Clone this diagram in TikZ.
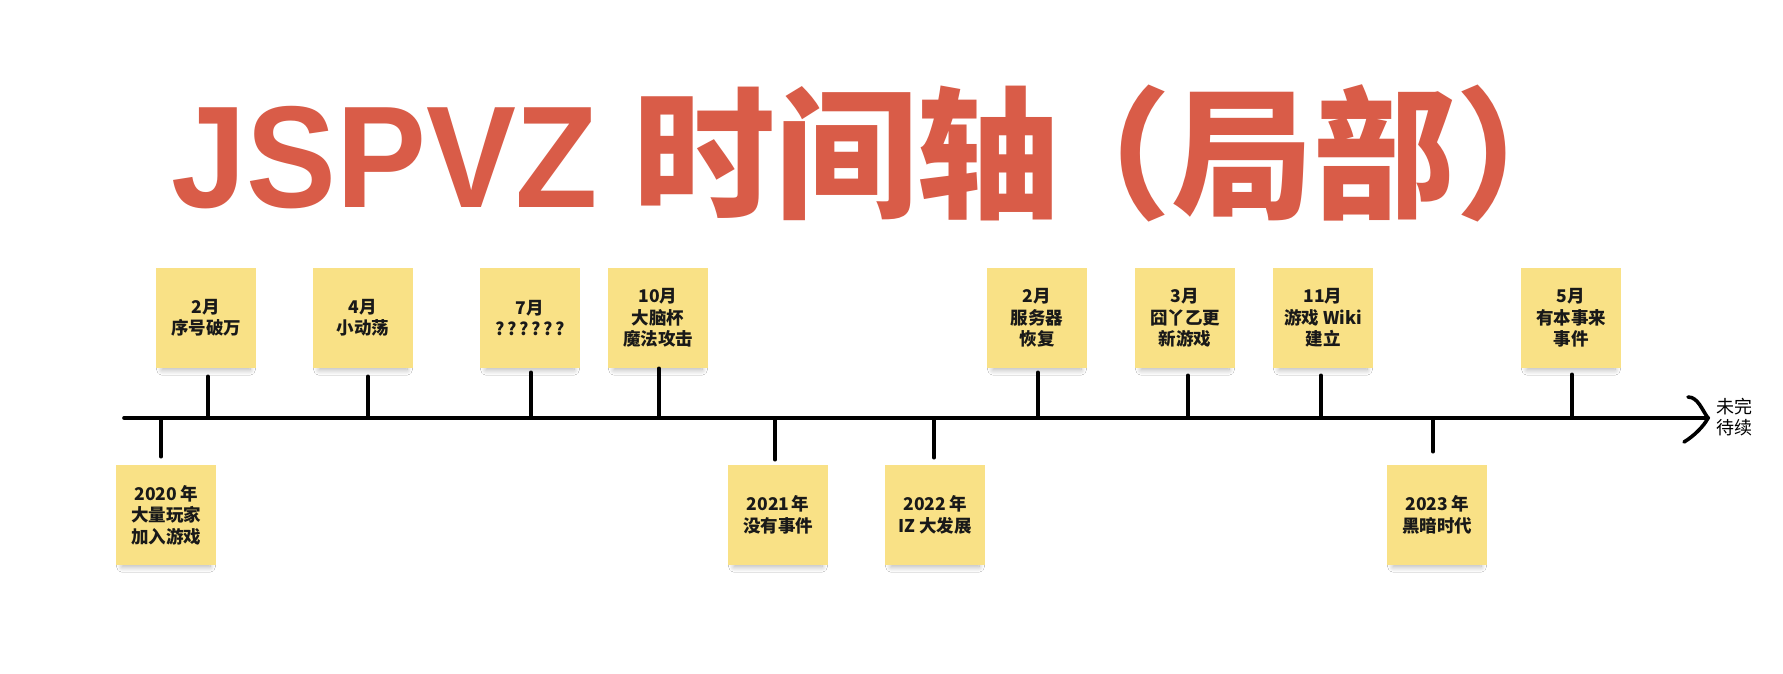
\documentclass[tikz,border=0pt]{standalone}
\usepackage{fontspec}
\newfontfamily\cjk{Noto Sans CJK SC}
\newfontfamily\lat{Liberation Sans}
\usetikzlibrary{shadows.blur}
\definecolor{notey}{RGB}{249,225,134}
\definecolor{titler}{RGB}{217,92,72}
\begin{document}
\begin{tikzpicture}[x=1pt,y=-1pt,
  note/.style={fill=notey, minimum width=100pt, minimum height=100pt, inner sep=0pt, align=center,
    font=\cjk\bfseries\fontsize{17.5}{21.5}\selectfont, text=black!90,
    blur shadow={shadow xshift=0pt, shadow yshift=-9pt, shadow opacity=30, shadow blur steps=14, shadow blur radius=6pt, shadow scale=0.88}},
  titletext/.style={text=titler, inner sep=0pt, anchor=base west},
  axisline/.style={line width=3.6pt, line cap=round},
  tickline/.style={line width=3.4pt, line cap=round}]
\useasboundingbox[fill=white] (0,0) rectangle (1783,673);
% title
\node[titletext, font=\lat\bfseries\fontsize{145}{145}\selectfont, xscale=0.93] (titleA) at (171,207) {JSPVZ};
\node[titletext, font=\cjk\bfseries\fontsize{142}{142}\selectfont] (titleB) at (633,207) {时间轴\kern-30pt（局部）};
% axis
\coordinate (ls) at (124,418);
\coordinate (le) at (1708,418);
\draw[axisline] (ls) -- (le);
\coordinate (ah1) at (1688,397);
\coordinate (ah2) at (1684,442);
\draw[axisline] (ah1) .. controls (1698,397) and (1702,410) .. (le) .. controls (1704,426) and (1694,436) .. (ah2);
\node[anchor=west, font=\cjk\fontsize{18}{21}\selectfont, align=left, inner sep=0pt] (tbc) at (1716,417) {未完\\待续};
% upper notes
\node[note] (n1) at (206,318) {2月\\序号破万};
\node[note] (n2) at (363,318) {4月\\小动荡};
\node[note] (n3) at (530,318) {7月\\?\kern2.5pt?\kern2.5pt?\kern2.5pt?\kern2.5pt?\kern2.5pt?};
\node[note] (n4) at (658,318) {10月\\大脑杯\\魔法攻击};
\node[note] (n5) at (1037,318) {2月\\服务器\\恢复};
\node[note] (n6) at (1185,318) {3月\\囧丫乙更\\新游戏};
\node[note] (n7) at (1323,318) {11月\\游戏 Wiki\\建立};
\node[note] (n8) at (1571,318) {5月\\有本事来\\事件};
% lower notes
\node[note] (m1) at (166,515) {2020\kern3pt 年\\大量玩家\\加入游戏};
\node[note] (m2) at (778,515) {2021\kern2pt 年\\没有事件};
\node[note] (m3) at (935,515) {2022\kern3pt 年\\IZ 大发展};
\node[note] (m4) at (1437,515) {2023\kern3pt 年\\黑暗时代};
% ticks on axis
\coordinate (a1) at (208,418);
\coordinate (a2) at (368,418);
\coordinate (a3) at (531,418);
\coordinate (a4) at (659,418);
\coordinate (a5) at (1038,418);
\coordinate (a6) at (1188,418);
\coordinate (a7) at (1321,418);
\coordinate (a8) at (1572,418);
\coordinate (b1) at (161,418);
\coordinate (b2) at (775,418);
\coordinate (b3) at (934,418);
\coordinate (b4) at (1433,418);
\draw[tickline] (a1) -- ([yshift=-8pt]n1.south -| a1);
\draw[tickline] (a2) -- ([yshift=-8pt]n2.south -| a2);
\draw[tickline] (a3) -- ([yshift=-4pt]n3.south -| a3);
\draw[tickline] (a4) -- (n4.south -| a4);
\draw[tickline] (a5) -- ([yshift=-4pt]n5.south -| a5);
\draw[tickline] (a6) -- ([yshift=-7pt]n6.south -| a6);
\draw[tickline] (a7) -- ([yshift=-7pt]n7.south -| a7);
\draw[tickline] (a8) -- ([yshift=-6pt]n8.south -| a8);
\draw[tickline] (b1) -- ([yshift=8pt]m1.north -| b1);
\draw[tickline] (b2) -- ([yshift=5pt]m2.north -| b2);
\draw[tickline] (b3) -- ([yshift=7pt]m3.north -| b3);
\draw[tickline] (b4) -- ([yshift=13pt]m4.north -| b4);
\end{tikzpicture}
\end{document}
